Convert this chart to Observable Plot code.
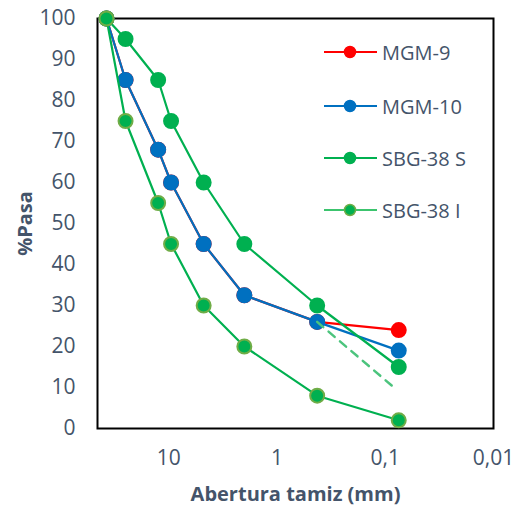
<!DOCTYPE html>
<html>
<head>
<meta charset="utf-8">
<script src="https://cdn.jsdelivr.net/npm/d3@7"></script>
<script src="https://cdn.jsdelivr.net/npm/@observablehq/plot@0.6"></script>
<style>
  html, body { margin: 0; padding: 0; background: #fff; }
  #wrap { position: relative; width: 513px; height: 510px; font-family: "Open Sans", sans-serif; }
  g[aria-label="x-axis label"] text, g[aria-label="y-axis label"] text { font-weight: bold; font-size: 20px; }
  #legend { position: absolute; left: 0; top: 0; }
  .item { position: absolute; display: flex; align-items: center; font-size: 20px; color: #44546A; height: 24px; white-space: nowrap; }
  .item svg { display: block; flex: none; }
  .item span { margin-left: 4px; }
</style>
</head>
<body>
<div id="wrap"><div id="legend"></div></div>
<script>
// Sieve openings (mm)
const sieves = [37.5, 25, 12.5, 9.5, 4.75, 2, 0.425, 0.075];
// % passing per sample
const mgm9  = [100, 85, 68, 60, 45, 32.5, 26, 24];
const mgm10 = [100, 85, 68, 60, 45, 32.5, 26, 19];
const sbgS  = [100, 95, 85, 75, 60, 45, 30, 15];
const sbgI  = [100, 75, 55, 45, 30, 20, 8, 2];
// dashed trend segment (no legend entry)
const dashX = [0.425, 0.083];
const dashY = [26, 10];
// axis ticks
const xTicks = [10, 1, 0.1, 0.01];
const yTicks = [0, 10, 20, 30, 40, 50, 60, 70, 80, 90, 100];

const series = [
  {name: "MGM-9",    values: mgm9,  line: "#FF0000", fill: "#FF0000", stroke: "#FF0000"},
  {name: "MGM-10",   values: mgm10, line: "#0070C0", fill: "#0070C0", stroke: "#0070C0"},
  {name: "SBG-38 S", values: sbgS,  line: "#00B050", fill: "#00B050", stroke: "#00B050"},
  {name: "SBG-38 I", values: sbgI,  line: "#00B050", fill: "#00B050", stroke: "#70AD47", legendLine: "#3CC46E"}
];

const marks = [Plot.frame({stroke: "black", strokeWidth: 2})];
for (const s of series) {
  const rows = sieves.map((x, i) => ({x, y: s.values[i]}));
  marks.push(Plot.line(rows, {x: "x", y: "y", stroke: s.line, strokeWidth: 2.2}));
  marks.push(Plot.dot(rows, {x: "x", y: "y", r: 7, fill: s.fill, stroke: s.stroke, strokeWidth: 2}));
}
const dashRows = dashX.map((x, i) => ({x, y: dashY[i]}));
marks.push(Plot.line(dashRows, {x: "x", y: "y", stroke: "#4CC47D", strokeWidth: 2.5, strokeDasharray: "8,7"}));

marks.push(Plot.axisX(xTicks, {
  tickSize: 0, tickPadding: 22, fontSize: 21, tickFormat: d => String(d).replace(".", ","),
  label: "Abertura tamiz (mm)", labelAnchor: "center", labelOffset: 72, labelArrow: "none"
}));
marks.push(Plot.axisY(yTicks, {
  tickSize: 0, tickPadding: 22, fontSize: 21, label: "%Pasa", labelAnchor: "center", labelOffset: 80, labelArrow: "none"
}));

const chart = Plot.plot({
  width: 513,
  height: 510,
  marginLeft: 97,
  marginRight: 20,
  marginTop: 18,
  marginBottom: 82,
  style: {fontFamily: "Open Sans, sans-serif", fontSize: "20px", color: "#44546A", background: "#fff", overflow: "visible"},
  x: {type: "log", domain: [45.4, 0.01]},
  y: {domain: [0, 100]},
  marks
});
const wrap = document.getElementById("wrap");
wrap.insertBefore(chart, wrap.firstChild);

// legend inside the plot area
const legend = document.getElementById("legend");
const legendTops = [40, 94, 146, 198];
series.forEach((s, i) => {
  const div = document.createElement("div");
  div.className = "item";
  div.style.left = "324px";
  div.style.top = legendTops[i] + "px";
  const ns = "http://www.w3.org/2000/svg";
  const svg = document.createElementNS(ns, "svg");
  svg.setAttribute("width", 54); svg.setAttribute("height", 24);
  const ln = document.createElementNS(ns, "line");
  ln.setAttribute("x1", 0); ln.setAttribute("x2", 53); ln.setAttribute("y1", 12); ln.setAttribute("y2", 12);
  ln.setAttribute("stroke", s.legendLine || s.line); ln.setAttribute("stroke-width", 2);
  const c = document.createElementNS(ns, "circle");
  c.setAttribute("cx", 26); c.setAttribute("cy", 12); c.setAttribute("r", 5.5);
  c.setAttribute("fill", s.fill); c.setAttribute("stroke", s.stroke); c.setAttribute("stroke-width", 1.5);
  svg.appendChild(ln); svg.appendChild(c);
  const t = document.createElement("span");
  t.textContent = s.name;
  div.appendChild(svg); div.appendChild(t);
  legend.appendChild(div);
});
</script>
</body>
</html>
